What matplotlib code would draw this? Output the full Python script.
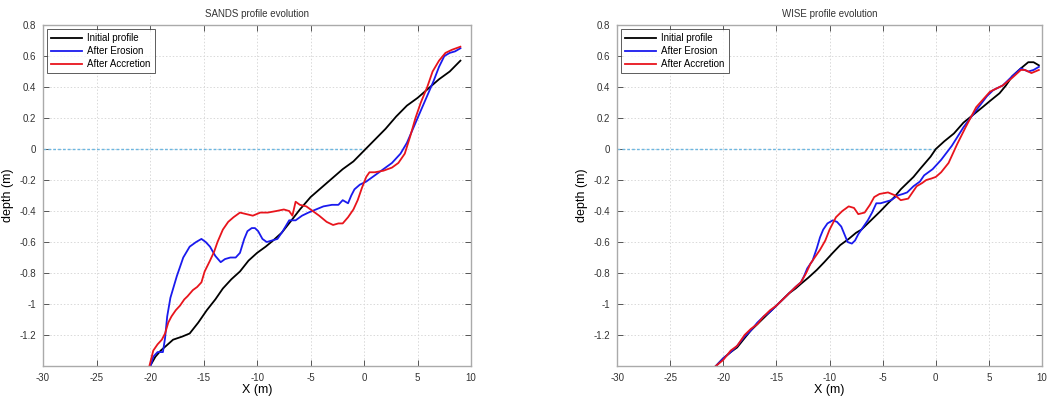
import numpy as np
import matplotlib
matplotlib.use('Agg')
import matplotlib.pyplot as plt
from matplotlib.ticker import FuncFormatter

plt.rcParams['font.family'] = ['Liberation Sans', 'DejaVu Sans']
plt.rcParams['axes.unicode_minus'] = False

# ---- SANDS panel ----
sands_init_x = [-20.0, -19.5, -19.0, -18.5, -17.85, -17.0, -16.3, -15.5, -14.7, -13.9, -13.2, -12.4,
                -11.6, -10.8, -10.0, -9.2, -8.5, -7.7, -6.9, -6.0, -5.0, -4.0, -3.0, -2.0, -1.0,
                0.0, 1.0, 2.0, 3.0, 4.0, 5.0, 6.0, 7.0, 8.0, 9.0]
sands_init_y = [-1.40, -1.34, -1.30, -1.27, -1.23, -1.21, -1.19, -1.12, -1.04, -0.97, -0.90, -0.84,
                -0.79, -0.72, -0.67, -0.63, -0.59, -0.54, -0.47, -0.39, -0.31, -0.25, -0.19, -0.13, -0.08,
                -0.01, 0.06, 0.13, 0.21, 0.28, 0.33, 0.39, 0.45, 0.50, 0.57]

sands_ero_x = [-20.0, -19.7, -19.3, -18.8, -18.6, -18.4, -18.1, -17.5, -16.9, -16.3, -15.7, -15.2,
               -14.8, -14.4, -13.9, -13.4, -13.0, -12.5, -12.0, -11.6, -11.2, -10.9, -10.5, -10.2,
               -9.9, -9.5, -9.1, -8.6, -8.1, -7.6, -7.0, -6.4, -5.8, -5.2, -4.5, -3.8, -3.0, -2.4,
               -2.0, -1.5, -1.2, -0.9, -0.4, 0.2, 1.0, 1.8, 2.6, 3.4, 4.0, 4.5, 5.0, 5.5, 6.0, 6.5,
               7.0, 7.5, 8.0, 8.5, 9.0]
sands_ero_y = [-1.41, -1.34, -1.31, -1.31, -1.22, -1.08, -0.96, -0.82, -0.70, -0.63, -0.60, -0.58,
               -0.60, -0.63, -0.69, -0.73, -0.71, -0.70, -0.70, -0.67, -0.58, -0.53, -0.51, -0.51,
               -0.53, -0.58, -0.60, -0.59, -0.58, -0.53, -0.46, -0.46, -0.43, -0.41, -0.39, -0.37,
               -0.36, -0.36, -0.33, -0.35, -0.30, -0.26, -0.23, -0.21, -0.17, -0.13, -0.09, -0.03,
               0.04, 0.12, 0.20, 0.28, 0.36, 0.44, 0.53, 0.60, 0.62, 0.63, 0.65]

sands_acc_x = [-20.1, -19.7, -19.3, -18.9, -18.6, -18.3, -18.0, -17.6, -17.2, -16.8, -16.5, -16.0,
               -15.6, -15.2, -14.9, -14.4, -14.0, -13.7, -13.2, -12.7, -12.2, -11.6, -11.0, -10.4,
               -9.7, -9.0, -8.2, -7.5, -7.0, -6.7, -6.4, -6.0, -5.4, -4.8, -4.2, -3.5, -2.9, -2.4,
               -2.0, -1.5, -1.0, -0.6, -0.2, 0.2, 0.5, 1.0, 1.8, 2.6, 3.2, 3.8, 4.3, 4.8, 5.3, 5.9,
               6.4, 7.0, 7.6, 8.2, 9.0]
sands_acc_y = [-1.41, -1.30, -1.26, -1.23, -1.19, -1.12, -1.08, -1.04, -1.01, -0.97, -0.95, -0.91,
               -0.89, -0.86, -0.79, -0.72, -0.66, -0.60, -0.52, -0.47, -0.44, -0.41, -0.42, -0.43,
               -0.41, -0.41, -0.40, -0.39, -0.40, -0.43, -0.34, -0.36, -0.37, -0.40, -0.43, -0.47,
               -0.49, -0.48, -0.48, -0.44, -0.39, -0.33, -0.25, -0.18, -0.15, -0.15, -0.14, -0.12,
               -0.09, -0.03, 0.08, 0.20, 0.30, 0.40, 0.50, 0.57, 0.62, 0.64, 0.66]

# ---- WISE panel ----
wise_init_x = [-20.7, -20.0, -19.3, -18.7, -18.0, -17.4, -16.8, -16.2, -15.6, -15.0, -14.4, -13.8,
               -13.2, -12.7, -12.0, -11.2, -10.5, -9.7, -9.0, -8.2, -7.5, -7.0, -6.4, -5.8, -5.2,
               -4.5, -3.9, -3.3, -2.7, -2.1, -1.5, -1.0, -0.5, 0.0, 0.8, 1.7, 2.6, 3.5, 4.4, 5.1,
               6.0, 6.6, 7.2, 8.0, 8.7, 9.2, 9.7]
wise_init_y = [-1.40, -1.35, -1.31, -1.28, -1.22, -1.17, -1.13, -1.09, -1.05, -1.01, -0.97, -0.93,
               -0.90, -0.87, -0.83, -0.78, -0.73, -0.67, -0.62, -0.58, -0.54, -0.52, -0.48, -0.44,
               -0.40, -0.35, -0.31, -0.26, -0.22, -0.18, -0.13, -0.09, -0.05, 0.00, 0.05, 0.10,
               0.17, 0.22, 0.27, 0.31, 0.36, 0.41, 0.47, 0.52, 0.56, 0.56, 0.54]

wise_ero_x = [-20.7, -20.0, -19.3, -18.7, -18.0, -17.4, -16.8, -16.2, -15.6, -15.0, -14.4, -13.8,
              -13.2, -12.7, -12.4, -12.1, -11.6, -11.2, -10.9, -10.6, -10.2, -9.7, -9.3, -8.9, -8.6,
              -8.3, -7.9, -7.6, -7.3, -6.9, -6.4, -6.0, -5.6, -5.2, -4.7, -4.2, -3.6, -3.1, -2.7,
              -2.1, -1.5, -1.1, -0.3, 0.5, 1.5, 2.6, 3.8, 4.8, 5.4, 6.3, 7.2, 8.0, 8.7, 9.2, 9.7]
wise_ero_y = [-1.40, -1.35, -1.31, -1.27, -1.21, -1.17, -1.12, -1.08, -1.05, -1.01, -0.97, -0.93,
              -0.89, -0.86, -0.82, -0.77, -0.72, -0.64, -0.57, -0.52, -0.48, -0.46, -0.47, -0.50,
              -0.55, -0.60, -0.61, -0.59, -0.55, -0.51, -0.46, -0.41, -0.35, -0.35, -0.34, -0.33,
              -0.30, -0.29, -0.28, -0.24, -0.21, -0.17, -0.13, -0.07, 0.02, 0.14, 0.25, 0.34, 0.38,
              0.41, 0.47, 0.52, 0.50, 0.51, 0.53]

wise_acc_x = [-20.7, -20.0, -19.3, -18.7, -18.0, -17.4, -16.8, -16.2, -15.6, -15.0, -14.4, -13.8,
              -13.2, -12.7, -12.2, -11.8, -11.3, -10.9, -10.4, -10.0, -9.4, -8.8, -8.2, -7.7, -7.3,
              -6.7, -6.2, -5.8, -5.3, -4.5, -3.8, -3.3, -2.6, -1.8, -1.3, -0.9, -0.4, 0.0, 0.5, 1.2,
              2.0, 2.8, 3.8, 5.1, 6.3, 7.2, 8.0, 8.4, 9.0, 9.7]
wise_acc_y = [-1.40, -1.36, -1.30, -1.27, -1.20, -1.16, -1.13, -1.08, -1.04, -1.01, -0.97, -0.93,
              -0.89, -0.86, -0.80, -0.74, -0.69, -0.65, -0.59, -0.52, -0.44, -0.40, -0.37, -0.38,
              -0.42, -0.41, -0.36, -0.31, -0.29, -0.28, -0.30, -0.33, -0.32, -0.24, -0.22, -0.20,
              -0.19, -0.18, -0.15, -0.09, 0.03, 0.14, 0.27, 0.37, 0.41, 0.46, 0.51, 0.51, 0.49, 0.51]

titles = ['SANDS profile evolution', 'WISE profile evolution']
legend_labels = ['Initial profile', 'After Erosion', 'After Accretion']
xticks = [-30, -25, -20, -15, -10, -5, 0, 5, 10]
yticks = [-1.2, -1, -0.8, -0.6, -0.4, -0.2, 0, 0.2, 0.4, 0.6, 0.8]

panels = [
    (sands_init_x, sands_init_y, sands_ero_x, sands_ero_y, sands_acc_x, sands_acc_y),
    (wise_init_x, wise_init_y, wise_ero_x, wise_ero_y, wise_acc_x, wise_acc_y),
]

fig = plt.figure(figsize=(10.63, 3.97), dpi=100)
rects = [[0.0405, 0.078, 0.4027, 0.859], [0.5805, 0.078, 0.3998, 0.859]]

for k, p in enumerate(panels):
    ax = fig.add_axes(rects[k])
    # sea level marker
    ax.plot([-30, 0], [0, 0], ls=(0, (2, 1.5)), color='#6cb6e0', lw=1.0)
    ax.plot(p[0], p[1], color='black', lw=1.3, label=legend_labels[0])
    ax.plot(p[2], p[3], color='#1a1aee', lw=1.3, label=legend_labels[1])
    ax.plot(p[4], p[5], color='#e8141c', lw=1.3, label=legend_labels[2])
    ax.set_xlim(-30, 10)
    ax.set_ylim(-1.4, 0.8)
    ax.set_xticks(xticks)
    ax.set_yticks(yticks)
    ax.yaxis.set_major_formatter(FuncFormatter(lambda v, pos: '%g' % round(v, 2)))
    ax.xaxis.set_major_formatter(FuncFormatter(lambda v, pos: '%g' % v))
    ax.grid(True, ls=(0, (1.5, 2)), color='#d9d9d9', lw=0.7)
    ax.tick_params(direction='in', top=True, right=True, length=4, width=0.7,
                   color='#555555', labelsize=7, labelcolor='#333333', pad=5)
    for s in ax.spines.values():
        s.set_color('#aaaaaa')
        s.set_linewidth(1.0)
    ax.set_title(titles[k], fontsize=7, color='#333333', pad=6)
    ax.set_xlabel('X (m)', fontsize=9, labelpad=1)
    ax.set_ylabel('depth (m)', fontsize=9, labelpad=4)
    leg = ax.legend(loc='upper left', fontsize=7, frameon=True, fancybox=False,
                    handlelength=3.2, handletextpad=0.5, borderpad=0.45, labelspacing=0.3,
                    borderaxespad=0.4)
    leg.get_frame().set_edgecolor('#333333')
    leg.get_frame().set_linewidth(0.7)

fig.savefig('out.png', dpi=100)
